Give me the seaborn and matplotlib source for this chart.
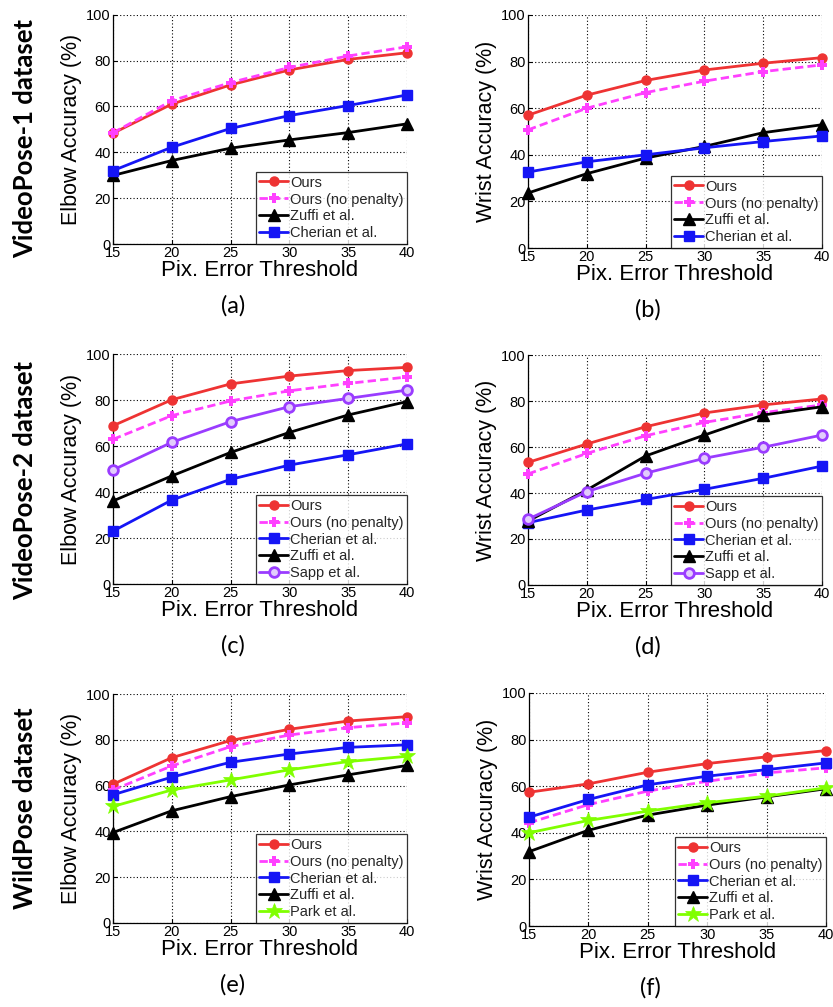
import numpy as np
import pandas as pd
import matplotlib
matplotlib.use("Agg")
import matplotlib.pyplot as plt
import seaborn as sns

# ── DATOS ──────────────────────────────────────────────
umbral = [15, 20, 25, 30, 35, 40]

# (a) VideoPose-1, codo
a_ours = [48.3, 61.0, 69.4, 75.9, 80.5, 83.4]
a_nopen = [48.5, 62.5, 70.4, 77.0, 82.0, 86.0]
a_zuffi = [29.9, 36.4, 41.8, 45.4, 48.6, 52.4]
a_cherian = [32.0, 42.2, 50.4, 56.0, 60.4, 65.0]

# (b) VideoPose-1, muñeca
b_ours = [57.0, 65.6, 71.9, 76.4, 79.3, 81.7]
b_nopen = [50.7, 60.0, 66.7, 71.6, 75.7, 78.6]
b_zuffi = [23.6, 31.9, 38.6, 43.6, 49.5, 52.9]
b_cherian = [32.6, 37.0, 40.0, 43.0, 45.7, 48.1]

# (c) VideoPose-2, codo
c_ours = [68.8, 80.1, 87.0, 90.4, 92.8, 94.2]
c_nopen = [62.9, 73.2, 79.6, 84.0, 87.2, 90.0]
c_cherian = [23.0, 36.5, 45.5, 51.7, 56.2, 60.9]
c_zuffi = [36.1, 47.0, 57.2, 65.9, 73.5, 79.3]
c_sapp = [49.6, 61.6, 70.6, 77.1, 80.7, 84.3]

# (d) VideoPose-2, muñeca
d_ours = [53.3, 61.3, 68.8, 74.8, 78.3, 80.9]
d_nopen = [48.3, 57.2, 64.9, 70.7, 74.9, 78.3]
d_cherian = [27.1, 32.6, 37.2, 41.6, 46.4, 51.7]
d_zuffi = [27.8, 41.3, 56.1, 65.2, 73.9, 77.5]
d_sapp = [28.6, 40.6, 48.6, 55.1, 59.9, 65.2]

# (e) WildPose, codo
e_ours = [60.6, 72.2, 79.7, 84.6, 88.2, 90.1]
e_nopen = [58.1, 68.6, 77.0, 82.1, 85.3, 87.4]
e_cherian = [56.0, 63.7, 70.2, 73.8, 76.7, 77.8]
e_zuffi = [39.5, 49.0, 55.2, 60.3, 64.7, 68.8]
e_park = [50.9, 58.1, 62.5, 66.9, 70.5, 72.8]

# (f) WildPose, muñeca
f_ours = [57.4, 61.0, 66.0, 69.7, 72.6, 75.3]
f_nopen = [44.3, 52.1, 57.9, 62.1, 65.7, 67.9]
f_cherian = [46.7, 54.3, 60.6, 64.3, 67.1, 70.0]
f_zuffi = [31.9, 41.1, 47.6, 51.9, 55.4, 58.9]
f_park = [40.0, 45.3, 49.3, 52.9, 55.7, 59.3]

# ── ESTILOS ────────────────────────────────────────────
estilos = {
    "Ours": dict(color="#ee3333", marker="o", linestyle="-", ms=6.5, mfc="#ee3333", mew=1.0),
    "Ours (no penalty)": dict(color="#ff40ff", marker="P", linestyle=(0, (3, 1.5)), ms=7, mfc="#ff40ff", mew=0),
    "Zuffi et al.": dict(color="black", marker="^", linestyle="-", ms=8, mfc="black", mew=1.0),
    "Cherian et al.": dict(color="#1515f5", marker="s", linestyle="-", ms=6.5, mfc="#1515f5", mew=1.0),
    "Sapp et al.": dict(color="#9a3cff", marker="o", linestyle="-", ms=7, mfc="#e2cdfc", mew=2.0),
    "Park et al.": dict(color="#80ff00", marker="*", linestyle="-", ms=12, mfc="#80ff00", mew=0.5),
}

paneles = [
    ("(a)", "Elbow Accuracy (%)", [("Ours", a_ours), ("Ours (no penalty)", a_nopen),
                                   ("Zuffi et al.", a_zuffi), ("Cherian et al.", a_cherian)],
     (113, 14.7, 407, 244)),
    ("(b)", "Wrist Accuracy (%)", [("Ours", b_ours), ("Ours (no penalty)", b_nopen),
                                   ("Zuffi et al.", b_zuffi), ("Cherian et al.", b_cherian)],
     (528, 15, 822, 248)),
    ("(c)", "Elbow Accuracy (%)", [("Ours", c_ours), ("Ours (no penalty)", c_nopen),
                                   ("Cherian et al.", c_cherian), ("Zuffi et al.", c_zuffi),
                                   ("Sapp et al.", c_sapp)],
     (113, 354, 407, 584)),
    ("(d)", "Wrist Accuracy (%)", [("Ours", d_ours), ("Ours (no penalty)", d_nopen),
                                   ("Cherian et al.", d_cherian), ("Zuffi et al.", d_zuffi),
                                   ("Sapp et al.", d_sapp)],
     (528, 355, 822, 585)),
    ("(e)", "Elbow Accuracy (%)", [("Ours", e_ours), ("Ours (no penalty)", e_nopen),
                                   ("Cherian et al.", e_cherian), ("Zuffi et al.", e_zuffi),
                                   ("Park et al.", e_park)],
     (113, 694, 407, 923)),
    ("(f)", "Wrist Accuracy (%)", [("Ours", f_ours), ("Ours (no penalty)", f_nopen),
                                   ("Cherian et al.", f_cherian), ("Zuffi et al.", f_zuffi),
                                   ("Park et al.", f_park)],
     (529, 693, 826, 926)),
]

filas = [("VideoPose-1 dataset", 138), ("VideoPose-2 dataset", 480), ("WildPose dataset", 808)]

# ── FIGURA ─────────────────────────────────────────────
sns.set_theme(style="white")
plt.rcParams["font.family"] = ["Liberation Sans", "DejaVu Sans"]

W, H = 833, 1007
fig = plt.figure(figsize=(W / 100, H / 100), dpi=100)
fig.patch.set_facecolor("white")

for letra, ylab, series, (x0, y0, x1, y1) in paneles:
    ax = fig.add_axes([x0 / W, 1 - y1 / H, (x1 - x0) / W, (y1 - y0) / H])
    ax.set_facecolor("white")
    for nombre, valores in series:
        st = estilos[nombre]
        sns.lineplot(x=umbral, y=valores, ax=ax, label=nombre, color=st["color"],
                     marker=st["marker"], linestyle=st["linestyle"], linewidth=2,
                     markersize=st["ms"], markerfacecolor=st["mfc"],
                     markeredgecolor=st["color"], markeredgewidth=st["mew"],
                     clip_on=False, zorder=3)
    ax.set_xlim(15, 40)
    ax.set_ylim(0, 100)
    ax.set_xticks(umbral)
    ax.set_yticks([0, 20, 40, 60, 80, 100])
    ax.grid(True, linestyle=(0, (1, 2)), color="black", linewidth=0.8)
    for lado in ["top", "right"]:
        ax.spines[lado].set_visible(False)
    for lado in ["left", "bottom"]:
        ax.spines[lado].set_color("black")
        ax.spines[lado].set_linewidth(0.9)
    ax.tick_params(direction="in", length=3, width=0.8, labelsize=10.5, pad=1.5,
                   colors="black", left=True, bottom=True)
    ax.set_xlabel("Pix. Error Threshold", fontsize=16, labelpad=0, color="black")
    ax.set_ylabel(ylab, fontsize=15.5, labelpad=3, color="black")
    leg = ax.legend(loc="lower right", fontsize=10.5, frameon=True, fancybox=False,
                    borderaxespad=0, handlelength=2.0, handletextpad=0.1,
                    labelspacing=0.2, borderpad=0.25)
    leg.get_frame().set_edgecolor("black")
    leg.get_frame().set_linewidth(0.9)
    cx = (x0 + x1) / 2 - 27
    fig.text(cx / W, 1 - (y1 + 62) / H, letra, ha="center", va="center",
             fontsize=17, family="Lato", color="black")

for texto, yc in filas:
    fig.text(25 / W, 1 - yc / H, texto, rotation=90, ha="center", va="center",
             fontsize=18.5, fontweight="bold", family="Lato", color="black")

fig.savefig("out.png", dpi=100, facecolor="white")
